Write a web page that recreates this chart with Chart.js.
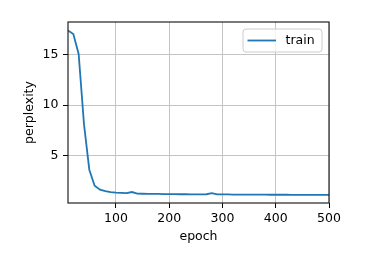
<!DOCTYPE html>
<html>
<head>
<meta charset="utf-8">
<script src="https://cdn.jsdelivr.net/npm/chart.js@4/dist/chart.umd.min.js"></script>
<style>
  html, body { margin: 0; padding: 0; background: #fff; }
  canvas { display: block; }
</style>
</head>
<body>
<canvas id="myChart" width="381" height="265"></canvas>
<script>
// values
const epochs = [10, 20, 30, 40, 50, 60, 70, 80, 90, 100,
  110, 120, 130, 140, 150, 160, 170, 180, 190, 200,
  210, 220, 230, 240, 250, 260, 270, 280, 290, 300,
  310, 320, 330, 340, 350, 360, 370, 380, 390, 400,
  410, 420, 430, 440, 450, 460, 470, 480, 490, 500];
const trainPerplexity = [17.41, 17.05, 15.07, 8.1, 3.58, 1.99, 1.6, 1.45, 1.34, 1.3,
  1.28, 1.26, 1.36, 1.2, 1.19, 1.18, 1.18, 1.17, 1.16, 1.15,
  1.15, 1.14, 1.14, 1.13, 1.13, 1.13, 1.14, 1.24, 1.13, 1.12,
  1.12, 1.11, 1.11, 1.11, 1.1, 1.1, 1.1, 1.1, 1.09, 1.09,
  1.09, 1.09, 1.08, 1.08, 1.07, 1.08, 1.08, 1.07, 1.07, 1.07];
const xTicks = [100, 200, 300, 400, 500];
const yTicks = [5, 10, 15];

const FONT = 'DejaVu Sans';
const BLUE = '#1f77b4';

// box round the plot, like matplotlib spines
const frame = {
  id: 'frame',
  afterDraw(chart) {
    const {ctx, chartArea: a} = chart;
    ctx.save();
    ctx.strokeStyle = '#222';
    ctx.lineWidth = 1.2;
    ctx.strokeRect(a.left, a.top, a.right - a.left, a.bottom - a.top);
    ctx.restore();
  }
};

// legend drawn inside the plot, upper right
const innerLegend = {
  id: 'innerLegend',
  afterDraw(chart) {
    const {ctx, chartArea: a} = chart;
    const ds = chart.data.datasets[0];
    const w = 79, h = 23;
    const x = a.right - 7 - w, y = a.top + 7;
    ctx.save();
    ctx.beginPath();
    ctx.roundRect(x, y, w, h, 3);
    ctx.fillStyle = 'rgba(255,255,255,0.8)';
    ctx.fill();
    ctx.strokeStyle = '#cccccc';
    ctx.lineWidth = 1;
    ctx.stroke();
    ctx.beginPath();
    ctx.moveTo(x + 4.5, y + h / 2);
    ctx.lineTo(x + 33, y + h / 2);
    ctx.strokeStyle = ds.borderColor;
    ctx.lineWidth = ds.borderWidth;
    ctx.stroke();
    ctx.fillStyle = '#000';
    ctx.font = '12.5px "' + FONT + '"';
    ctx.textBaseline = 'middle';
    ctx.fillText(ds.label, x + 42.5, y + h / 2 + 0.5);
    ctx.restore();
  }
};

const ctx = document.getElementById('myChart').getContext('2d');
new Chart(ctx, {
  type: 'line',
  data: {
    datasets: [{
      label: 'train',
      data: epochs.map((e, i) => ({x: e, y: trainPerplexity[i]})),
      borderColor: BLUE,
      borderWidth: 1.8,
      pointRadius: 0,
      tension: 0,
      fill: false
    }]
  },
  options: {
    responsive: false,
    animation: false,
    events: [],
    layout: {padding: {left: 0, top: 22, right: 52, bottom: 0}},
    plugins: {legend: {display: false}, tooltip: {enabled: false}},
    scales: {
      x: {
        type: 'linear',
        min: 10,
        max: 500,
        afterBuildTicks: s => { s.ticks = xTicks.map(v => ({value: v})); },
        afterFit: s => { s.height = 62; },
        border: {display: false},
        grid: {color: '#c4c4c4', lineWidth: 1, tickColor: '#000', tickLength: 5, tickWidth: 1},
        ticks: {color: '#000', padding: 3, maxRotation: 0, font: {family: FONT, size: 12.5}},
        title: {display: true, text: 'epoch', color: '#000', padding: {top: 0, bottom: 20.5}, font: {family: FONT, size: 12.5}}
      },
      y: {
        type: 'linear',
        min: 0.27,
        max: 18.25,
        afterBuildTicks: s => { s.ticks = yTicks.map(v => ({value: v})); },
        afterFit: s => { s.width = 68; },
        border: {display: false},
        grid: {color: '#c4c4c4', lineWidth: 1, tickColor: '#000', tickLength: 5, tickWidth: 1},
        ticks: {color: '#000', padding: 4.5, font: {family: FONT, size: 12.5}},
        title: {display: true, text: 'perplexity', color: '#000', padding: {top: 22.5, bottom: 0}, font: {family: FONT, size: 12.5}}
      }
    }
  },
  plugins: [frame, innerLegend]
});
</script>
</body>
</html>
